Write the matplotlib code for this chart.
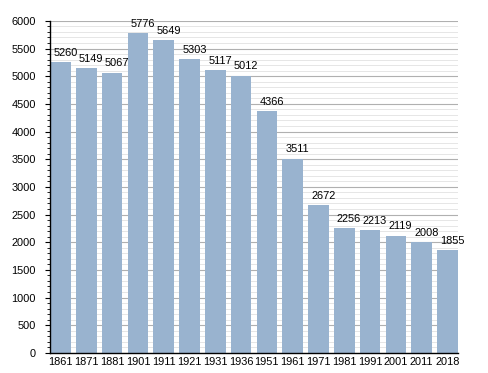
import matplotlib.pyplot as plt
from matplotlib.ticker import MultipleLocator

years = ["1861", "1871", "1881", "1901", "1911", "1921", "1931", "1936",
         "1951", "1961", "1971", "1981", "1991", "2001", "2011", "2018"]
population = [5260, 5149, 5067, 5776, 5649, 5303, 5117, 5012,
              4366, 3511, 2672, 2256, 2213, 2119, 2008, 1855]

plt.rcParams['font.family'] = ['Liberation Sans', 'DejaVu Sans']

fig = plt.figure(figsize=(4.88, 3.73), dpi=100)
ax = fig.add_axes([0.1025, 0.054, 0.836, 0.89])

x = range(len(years))
bars = ax.bar(x, population, width=0.8, color='#99b3cf', zorder=2)

# value labels sit a little right of the bar centre, like the original
for i, v in enumerate(population):
    ax.annotate(str(v), (i, v), xytext=(3.5, 3), textcoords='offset points',
                ha='center', va='bottom', fontsize=7.9, zorder=3)

ax.set_xlim(-0.41, len(years) - 0.59)
ax.set_ylim(0, 6000)
ax.set_xticks(list(x))
ax.set_xticklabels(years, fontsize=7.9)
ax.yaxis.set_major_locator(MultipleLocator(500))
ax.yaxis.set_minor_locator(MultipleLocator(100))
ax.tick_params(axis='y', which='major', length=3.5, labelsize=7.9, pad=6.5)
ax.tick_params(axis='y', which='minor', length=2)
ax.tick_params(axis='x', length=0, pad=3)

ax.grid(axis='y', which='major', color='#b0b0b0', linewidth=0.8, zorder=0)
ax.grid(axis='y', which='minor', color='#e2e2e2', linewidth=0.6, zorder=0)
ax.set_axisbelow(True)

for side in ['top', 'right']:
    ax.spines[side].set_visible(False)
ax.spines['left'].set_linewidth(1)
ax.spines['bottom'].set_linewidth(1)

fig.savefig('out.png', dpi=100)
